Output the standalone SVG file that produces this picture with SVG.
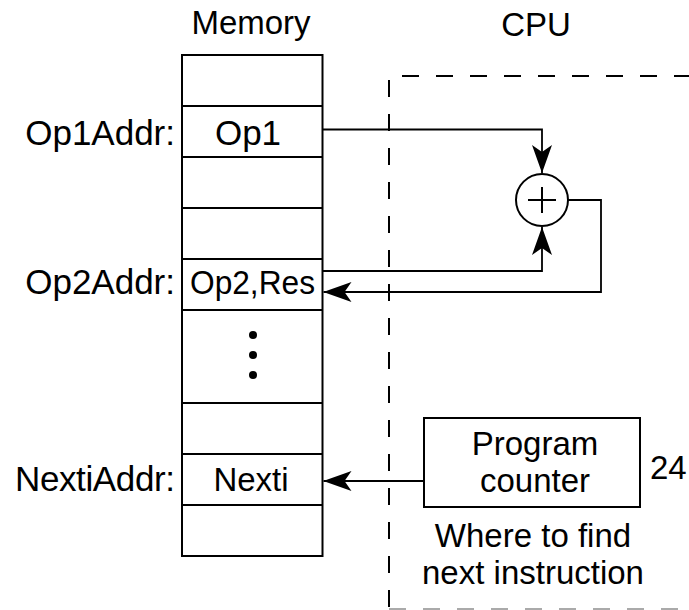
<svg xmlns="http://www.w3.org/2000/svg" width="689" height="610" viewBox="0 0 689 610">
<defs>
<style>
text{font-family:"Liberation Sans",Arial,Helvetica,sans-serif;font-size:33px;fill:#000}
.c{text-anchor:middle}
.e{text-anchor:end}
.lbl{font-size:35px}
.box{fill:#fff;stroke:#000;stroke-width:2}
.ln{fill:none;stroke:#000;stroke-width:2}
.conn{fill:none;stroke:#000;stroke-width:1.8}
.dash{fill:none;stroke:#000;stroke-width:2;stroke-dasharray:17 17}
</style>
<marker id="ah" markerUnits="userSpaceOnUse" markerWidth="28" markerHeight="20" viewBox="0 0 28 20" refX="28" refY="10" orient="auto">
<path d="M0,0 L28,10 L0,20 L7,10 Z" fill="#000"/>
</marker>
</defs>
<rect width="689" height="610" fill="#fff"/>

<g id="cpu-region">
<line class="dash" x1="402" y1="76" x2="700" y2="76"/>
<line class="dash" x1="389" y1="80" x2="389" y2="612"/>
<line x1="389" y1="609" x2="700" y2="609" stroke="#aaa" stroke-width="2" stroke-dasharray="17 17"/>
<text class="c" x="536" y="36">CPU</text>
</g>

<g id="memory">
<text class="c" x="251" y="34">Memory</text>
<rect class="box" x="182" y="55" width="140.5" height="501"/>
<line class="ln" x1="182" y1="106" x2="322.5" y2="106"/>
<line class="ln" x1="182" y1="157" x2="322.5" y2="157"/>
<line class="ln" x1="182" y1="208" x2="322.5" y2="208"/>
<line class="ln" x1="182" y1="259" x2="322.5" y2="259"/>
<line class="ln" x1="182" y1="310" x2="322.5" y2="310"/>
<line class="ln" x1="182" y1="403" x2="322.5" y2="403"/>
<line class="ln" x1="182" y1="454" x2="322.5" y2="454"/>
<line class="ln" x1="182" y1="505" x2="322.5" y2="505"/>
<circle cx="253" cy="335" r="4" fill="#000"/>
<circle cx="253" cy="355" r="4" fill="#000"/>
<circle cx="253" cy="375" r="4" fill="#000"/>
</g>

<g id="op1-cell">
<text class="e lbl" x="175" y="145">Op1Addr:</text>
<text class="c lbl" x="248" y="145">Op1</text>
</g>

<g id="op2-cell">
<text class="e lbl" x="175" y="294">Op2Addr:</text>
<text class="c" x="252.5" y="294" textLength="125" lengthAdjust="spacingAndGlyphs">Op2,Res</text>
</g>

<g id="nexti-cell">
<text class="e lbl" x="175" y="491" textLength="160" lengthAdjust="spacing">NextiAddr:</text>
<text class="c" x="251" y="491">Nexti</text>
</g>

<g id="adder">
<circle cx="542" cy="200" r="26" fill="#fff" stroke="#000" stroke-width="2"/>
<line class="ln" x1="528" y1="200" x2="556" y2="200"/>
<line class="ln" x1="542" y1="187" x2="542" y2="213"/>
</g>

<g id="program-counter">
<rect class="box" x="424" y="418" width="216" height="89"/>
<text class="c" x="535" y="455">Program</text>
<text class="c" x="535" y="492">counter</text>
<text x="650" y="479">24</text>
<text class="c" x="533" y="547">Where to find</text>
<text class="c" x="533" y="584">next instruction</text>
</g>

<g id="connectors">
<polyline class="conn" points="322.5,129.5 542,129.5 542,173" marker-end="url(#ah)"/>
<polyline class="conn" points="322.5,271 542,271 542,227" marker-end="url(#ah)"/>
<polyline class="conn" points="568,200 601,200 601,292 323.5,292" marker-end="url(#ah)"/>
<line class="conn" x1="424" y1="481" x2="323.5" y2="481" marker-end="url(#ah)"/>
</g>
</svg>
